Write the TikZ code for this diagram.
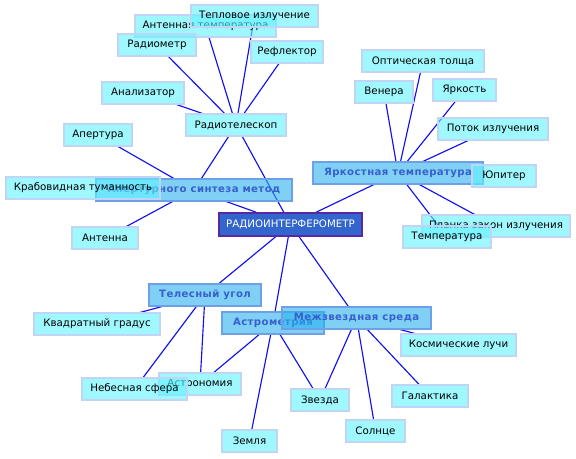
\documentclass[tikz,border=0pt]{standalone}
\usepackage{fontspec}
\setmainfont{DejaVu Sans}
\usetikzlibrary{backgrounds}
\definecolor{termfill}{RGB}{97,243,255}
\definecolor{termline}{RGB}{192,212,245}
\definecolor{topicfill}{RGB}{43,177,238}
\definecolor{topicline}{RGB}{110,160,230}
\definecolor{topictext}{RGB}{55,95,205}
\definecolor{rootfill}{RGB}{51,102,204}
\definecolor{rootline}{RGB}{88,40,165}
\definecolor{wire}{RGB}{15,15,240}
\newdimen\unitpx \unitpx=0.75pt
\tikzset{
  term/.style={draw=termline,fill=termfill,fill opacity=0.6,text opacity=1,draw opacity=1,
    line width=0.9pt,minimum height=22\unitpx,inner sep=0pt,font=\fontsize{7.7}{9}\selectfont},
  topic/.style={term,draw=topicline,fill=topicfill,text=topictext,
    font=\fontsize{7.6}{9}\selectfont\bfseries\addfontfeature{LetterSpace=4}},
  root/.style={draw=rootline,fill=rootfill,text=white,line width=1.1pt,
    minimum height=23\unitpx,inner sep=0pt,font=\fontsize{7.7}{9}\selectfont},
  wd/.style={minimum width=#1\unitpx},
  link/.style={draw=wire,line width=0.85pt},
}
\begin{document}
\begin{tikzpicture}[x=0.75pt,y=-0.75pt]
  \useasboundingbox (0,0) rectangle (576,458);
  % centre
  \node[root,wd=143] (radio) at (290.5,224.5) {РАДИОИНТЕРФЕРОМЕТР};
  % radio telescope branch
  \node[term,wd=100] (radiotel) at (236,125) {Радиотелескоп};
  \node[term,wd=141] (antemp) at (205.5,26) {Антенная температура};
  \node[term,wd=127] (teplo) at (254.5,16) {Тепловое излучение};
  \node[term,wd=78] (radiometr) at (157,45) {Радиометр};
  \node[term,wd=72] (reflektor) at (287,52) {Рефлектор};
  \node[term,wd=82] (analiz) at (143,93) {Анализатор};
  % aperture synthesis
  \node[topic,wd=196] (synth) at (194,190) {Апертурного синтеза метод};
  \node[term,wd=68] (apert) at (98,135) {Апертура};
  \node[term,wd=154] (crab) at (83,188) {Крабовидная туманность};
  \node[term,wd=66] (antenna) at (105,238) {Антенна};
  % brightness temperature
  \node[topic,wd=170] (bright) at (398,173) {Яркостная температура};
  \node[term,wd=122] (optic) at (423,61) {Оптическая толща};
  \node[term,wd=58] (venera) at (384,92) {Венера};
  \node[term,wd=63] (yarkost) at (464.5,90) {Яркость};
  \node[term,wd=110] (potok) at (493,129) {Поток излучения};
  \node[term,wd=64] (jupiter) at (504,176) {Юпитер};
  \node[term,wd=148] (planck) at (496,226) {Планка закон излучения};
  \node[term,wd=88] (temp) at (447,237) {Температура};
  % solid angle, astrometry, interstellar medium
  \node[topic,wd=112] (solid) at (205,295) {Телесный угол};
  \node[term,wd=126] (kvadrat) at (97,324) {Квадратный градус};
  \node[term,wd=82] (astronomy) at (200,384) {Астрономия};
  \node[term,wd=105] (nebo) at (134.5,389) {Небесная сфера};
  \node[topic,wd=102] (astrometry) at (273,323) {Астрометрия};
  \node[term,wd=55] (zemlya) at (249.5,441) {Земля};
  \node[topic,wd=149] (ism) at (356.5,318) {Межзвездная среда};
  \node[term,wd=115] (kosm) at (458.5,345) {Космические лучи};
  \node[term,wd=58] (zvezda) at (320,400) {Звезда};
  \node[term,wd=76] (galaktika) at (430,396) {Галактика};
  \node[term,wd=59] (solnce) at (375.5,431) {Солнце};
  % connectors
  \begin{scope}[on background layer]
    \foreach \a/\b in {radio/synth,radio/radiotel,radio/bright,radio/solid,radio/astrometry,radio/ism,
      radiotel/synth,radiotel/antemp,radiotel/teplo,radiotel/radiometr,radiotel/reflektor,radiotel/analiz,
      synth/apert,synth/antenna,
      bright/optic,bright/venera,bright/yarkost,bright/potok,bright/planck,bright/temp,
      solid/kvadrat,solid/nebo,solid/astronomy,
      astrometry/astronomy,astrometry/zemlya,astrometry/zvezda,
      ism/zvezda,ism/solnce,ism/galaktika,ism/kosm}
      \draw[link] (\a) -- (\b);
  \end{scope}
\end{tikzpicture}
\end{document}
